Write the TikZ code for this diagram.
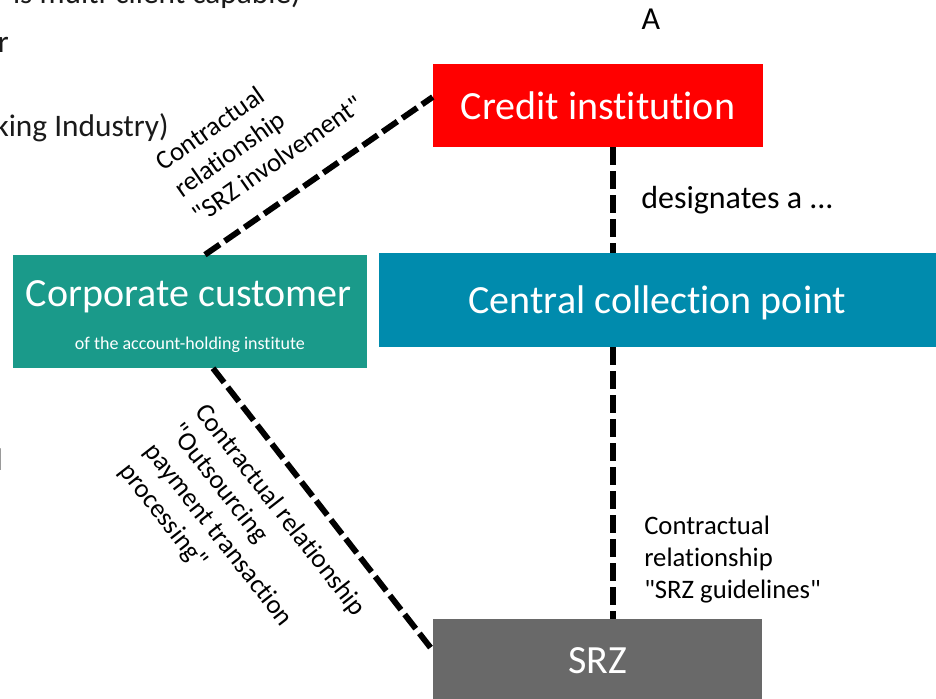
\documentclass[tikz,border=0pt]{standalone}
\usepackage{fontspec}
\setmainfont{Carlito}[Ligatures={TeXOff,NoCommon}]
\usetikzlibrary{calc}

\definecolor{creditred}{HTML}{FF0000}
\definecolor{centralblue}{HTML}{008BAD}
\definecolor{corpteal}{HTML}{1A9A8A}
\definecolor{srzgrey}{HTML}{696969}
\definecolor{inktext}{HTML}{1A1A1A}

\tikzset{
  box/.style={rectangle, inner sep=0pt, text=white, font=\fontsize{30}{36}\selectfont},
  link/.style={line width=4.4pt, dash pattern=on 13.5pt off 4.5pt, black},
  lbl/.style={inner sep=0pt, align=left, font=\fontsize{20}{24}\selectfont, text=black},
  plain/.style={inner sep=0pt, font=\fontsize{24}{29}\selectfont, text=black},
  backtext/.style={inner sep=0pt, font=\fontsize{23.5}{28}\selectfont, text=inktext},
}

\begin{document}
\begin{tikzpicture}[x=0.75pt,y=-0.75pt]
\useasboundingbox (0,0) rectangle (936,699);
\clip (0,0) rectangle (936,699);
\fill[white] (0,0) rectangle (936,699);

% text of the surrounding page, cut by the frame
\node[backtext, anchor=base east] (cutA) at (301,4) {is multi-client capable)};
\node[backtext, anchor=base east] (cutB) at (9,53) {r};
\node[backtext, anchor=base east] (cutC) at (169,137) {king Industry)};
\node[backtext, anchor=base east] (cutD) at (3,470) {l};

% parties
\node[box, fill=creditred, minimum width=247.5pt, minimum height=62.25pt] (credit) at (598,105.5) {Credit institution};
\node[box, fill=centralblue, minimum width=417.75pt, minimum height=70.5pt, text depth=0pt] (central) at (657.5,300) {Central collection point};
\node[box, fill=corpteal, minimum width=265.5pt, minimum height=84.75pt] (corp) at (190,311.5) {};
\node[box] (corptitle) at ($(corp.center)+(-1.5,-15)$) {Corporate customer};
\node[box, font=\fontsize{13.5}{16}\selectfont] (corpsub) at ($(corp.center)+(0,33.5)$) {of the account-holding institute};
\node[box, fill=srzgrey, minimum width=246.75pt, minimum height=62.25pt] (srz) at (597.5,660.5) {SRZ};

% contractual links
\draw[link] ($(corp.north)+(15,0)$) -- ($(credit.west)+(0,-8.5)$);
\draw[link] ($(credit.south)+(15,0)$) coordinate (vline) -- (vline |- central.north);
\draw[link] (vline |- central.south) -- (vline |- srz.north);
\draw[link] ($(corp.south)+(23,0)$) -- ($(srz.west)+(0,-10)$);

% link labels
\node[lbl, rotate=35] (lblinv) at (259,133) {Contractual\\relationship\\"SRZ involvement"};
\node[lbl, rotate=-52] (lblout) at (242,540) {Contractual relationship\\"Outsourcing\\payment transaction\\processing"};
\node[lbl, anchor=west] (lblguide) at (644,560) {Contractual\\relationship\\"SRZ guidelines"};
\node[plain, anchor=west] (designates) at (641,200) {designates a ...};
\node[plain] (tagA) at (651,19) {A};
\end{tikzpicture}
\end{document}
